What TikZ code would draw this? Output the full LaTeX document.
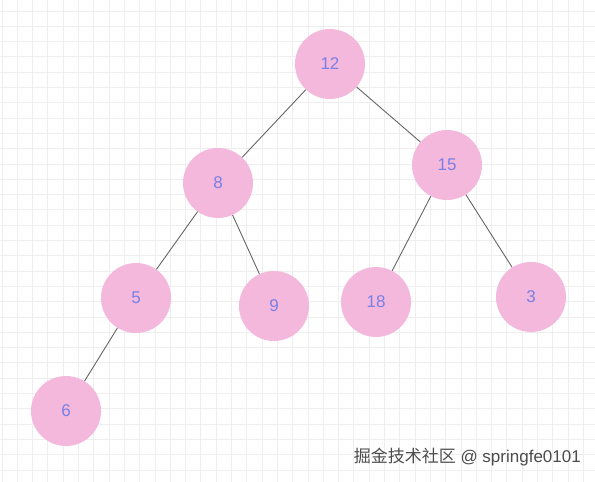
\documentclass[tikz,border=0pt]{standalone}
\usepackage{fontspec}
\setmainfont{Liberation Sans}
\newfontfamily\cjkfont{Noto Sans CJK SC}
\usepackage{tikz}
\usetikzlibrary{positioning}
\usepackage{xcolor}
\definecolor{heapfill}{HTML}{F4B8DC}
\definecolor{heaptext}{HTML}{7A80E6}
\definecolor{edgegray}{HTML}{666666}
\definecolor{gridgray}{HTML}{EEEEEE}

\begin{document}
\begin{tikzpicture}[
  x=1pt, y=-1pt,
  heapnode/.style={circle, fill=heapfill, minimum size=70pt, inner sep=0pt, text=heaptext, font=\fontsize{17}{20}\selectfont},
  link/.style={draw=edgegray, line width=0.9pt},
  gridline/.style={draw=gridgray, line width=0.9pt}
]
\useasboundingbox (0,0) rectangle (595,482);
\fill[white] (0,0) rectangle (595,482);
% background grid
\foreach \gx in {0,...,38} {
  \draw[gridline] ({2+15.3*\gx},0) -- ({2+15.3*\gx},482);
}
\foreach \gy in {0,...,31} {
  \draw[gridline] (0,{11+15.3*\gy}) -- (595,{11+15.3*\gy});
}

\node[heapnode] (n12) at (330,64) {12};
\node[heapnode] (n8) at (218,183) {8};
\node[heapnode] (n15) at (447,165) {15};
\node[heapnode] (n5) at (136,298) {5};
\node[heapnode] (n9) at (274,306) {9};
\node[heapnode] (n18) at (376,302) {18};
\node[heapnode] (n3) at (531,297) {3};
\node[heapnode] (n6) at (66,411) {6};

\draw[link] (n12) -- (n8);
\draw[link] (n12) -- (n15);
\draw[link] (n8) -- (n5);
\draw[link] (n8) -- (n9);
\draw[link] (n15) -- (n18);
\draw[link] (n15) -- (n3);
\draw[link] (n5) -- (n6);

\node[anchor=east, inner sep=0pt, text=black!70, font=\fontsize{17}{20}\selectfont] (mark) at (581,457) {{\cjkfont 掘金技术社区} @ springfe0101};
\end{tikzpicture}
\end{document}
